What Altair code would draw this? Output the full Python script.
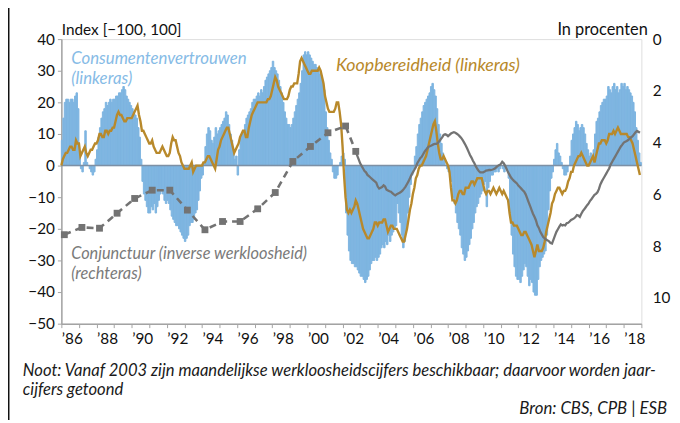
import altair as alt
import pandas as pd

# ---------------- data ----------------
start_year = 1986
# Consumentenvertrouwen, monthly 1986-2018 (left axis)
blue = [
    8, 15, 20, 21, 21, 20, 21, 21, 20, 22, 23, 18,        # 1986
    4, -1, -2, 1, 11, 1, 0, -1, -2, -3, -2, 2,            # 1987
    5, 9, 12, 15, 17, 18, 20, 19, 20, 21, 20, 21,         # 1988
    21, 22, 22, 23, 23, 24, 25, 24, 22, 21, 20, 19,       # 1989
    18, 17, 16, 15, 12, 9, 2, -5, -9, -11, -13, -15,      # 1990
    -15, -13, -14, -12, -15, -13, -11, -9, -8, -9, -11, -12,  # 1991
    -11, -12, -14, -16, -17, -18, -19, -19, -20, -21, -22, -23,  # 1992
    -24, -23, -22, -19, -18, -18, -17, -15, -14, -11, -8, -4,  # 1993
    -3, 1, 6, 10, 12, 11, 8, 7, 9, 12, 10, 11,            # 1994
    12, 13, 14, 15, 17, 16, 13, 10, 8, 5, 2, 3,           # 1995
    -3, 5, 9, 10, 11, 13, 15, 16, 17, 18, 20, 21,         # 1996
    21, 22, 23, 22, 24, 23, 25, 27, 28, 29, 30, 31,       # 1997
    33, 31, 30, 29, 27, 25, 23, 20, 17, 15, 13, 13,       # 1998
    12, 13, 15, 17, 19, 21, 23, 26, 30, 35, 36, 35,       # 1999
    36, 35, 34, 33, 32, 32, 31, 30, 29, 28, 27, 24,       # 2000
    17, 12, 8, 4, 2, -2, -4, -4, -3, 0, 1, 3,             # 2001
    4, 2, -15, -22, -27, -30, -31, -31, -32, -32, -33, -34,  # 2002
    -35, -35, -36, -37, -36, -35, -33, -31, -30, -30, -29, -30,  # 2003
    -29, -28, -26, -25, -26, -24, -25, -22, -24, -22, -21, -20,  # 2004
    -19, -12, -15, -18, -22, -26, -24, -20, -15, -10, -6, -3,  # 2005
    -1, 3, 6, 10, 13, 15, 17, 19, 20, 21, 22, 23,         # 2006
    25, 26, 24, 22, 18, 13, 10, 7, 4, 2, 0, -1,           # 2007
    -2, -3, -5, -10, -12, -15, -18, -20, -22, -26, -28, -30,  # 2008
    -29, -27, -25, -23, -20, -18, -15, -13, -12, -10, -9, -8,  # 2009
    -6, -5, -13, -7, -5, -3, -3, -2, -2, -1, -2, -1,      # 2010
    0, -1, -2, 0, -1, -4, -15, -22, -28, -32, -35, -36,   # 2011
    -36, -37, -35, -33, -31, -32, -35, -38, -36, -37, -40, -41,  # 2012
    -41, -36, -32, -30, -29, -28, -27, -22, -14, -8, -4, -2,  # 2013
    2, 5, 7, 4, 3, 1, -1, -3, -3, -2, 0, 3,               # 2014
    8, 10, 12, 14, 13, 11, 12, 13, 12, 10, 7, 5,          # 2015
    3, 4, 2, 5, 10, 14, 15, 17, 19, 20, 21, 21,           # 2016
    22, 25, 24, 23, 25, 26, 24, 25, 23, 24, 26, 25,       # 2017
    26, 24, 25, 24, 23, 22, 20, 17, 12, 8, 4, 1,          # 2018
]

# Koopbereidheid, monthly 1986-2018 (left axis)
gold = [
    0, 2, 3, 4, 4, 5, 6, 6, 5, 5, 8, 7,
    7, 3, 4, 5, 6, 4, 3, 4, 5, 5, 6, 7,
    7, 8, 10, 10, 9, 9, 11, 11, 10, 11, 11, 12,
    12, 14, 16, 17, 16, 16, 15, 14, 14, 15, 15, 15,
    15, 16, 17, 18, 19, 16, 14, 11, 11, 10, 9, 8,
    7, 7, 8, 6, 5, 4, 4, 4, 5, 6, 5, 4,
    3, 3, 4, 7, 9, 8, 8, 6, 4, 3, 1, 0,
    -1, -1, -1, -1, 0, 1, -2, -1, 0, 0, 0, 0,
    0, 1, 1, 2, 3, 3, 2, 1, 0, -1, 2, 5,
    6, 8, 9, 10, 11, 12, 12, 10, 8, 6, 4, 5,
    6, 7, 9, 10, 11, 11, 9, 9, 12, 14, 16, 17,
    18, 19, 20, 20, 20, 20, 20, 20, 20, 21, 21, 22,
    24, 26, 28, 27, 25, 24, 23, 22, 21, 21, 21, 22,
    24, 25, 25, 26, 26, 26, 29, 33, 34, 33, 32, 31,
    30, 29, 29, 30, 30, 30, 30, 30, 31, 30, 28, 26,
    22, 20, 18, 17, 17, 17, 17, 18, 20, 20, 17, 13,
    6, -3, -10, -14, -15, -14, -15, -14, -13, -11, -12, -14,
    -16, -18, -20, -21, -22, -23, -23, -22, -21, -20, -18, -18,
    -19, -18, -18, -18, -17, -17, -19, -21, -20, -19, -19, -20,
    -20, -20, -21, -22, -23, -24, -24, -22, -20, -17, -14, -12,
    -9, -7, -4, -3, -1, 0, 0, 1, 2, 3, 5, 7,
    9, 11, 13, 14, 11, 7, 4, 2, 2, 3, 2, 1,
    0, -2, -7, -11, -11, -12, -11, -9, -8, -8, -9, -9,
    -7, -7, -7, -6, -5, -5, -6, -5, -4, -4, -4, -4,
    -6, -8, -9, -8, -8, -9, -8, -7, -8, -9, -8, -7,
    -8, -9, -8, -9, -10, -11, -15, -18, -18, -19, -19, -19,
    -20, -21, -22, -22, -21, -21, -22, -23, -24, -25, -27, -29,
    -27, -25, -27, -27, -27, -26, -24, -21, -19, -17, -15, -12,
    -11, -9, -8, -7, -7, -8, -9, -8, -8, -7, -5, -4,
    -2, -2, 0, 1, 2, 3, 3, 4, 3, 2, 1, 0,
    0, 1, 2, 3, 1, 3, 5, 7, 7, 8, 8, 8,
    7, 8, 10, 10, 10, 11, 10, 11, 12, 11, 10, 10,
    10, 10, 10, 9, 9, 8, 7, 5, 3, 1, -1, -3,
]

# Conjunctuur (werkloosheid, %), annual 1986-2002 (right axis, inverted)
annual_years = list(range(1986, 2003))
annual_unemp = [7.56, 7.28, 7.31, 6.73, 6.16, 5.84, 5.84, 6.61, 7.37,
                7.05, 7.05, 6.56, 5.93, 4.73, 4.15, 3.62, 3.36]

# Conjunctuur, monthly from Oct 2002 to Dec 2018
monthly_start = 2002 + 9 / 12
monthly_unemp = [
    4.34, 4.5, 4.65,                                                     # 2002 Q4
    4.8, 4.9, 5.0, 5.1, 5.15, 5.25, 5.3, 5.35, 5.4, 5.45, 5.5, 5.55,     # 2003
    5.7, 5.78, 5.75, 5.72, 5.65, 5.7, 5.82, 5.85, 5.88, 5.9, 5.95, 6.0,  # 2004
    6.04, 6.0, 5.97, 5.94, 5.9, 5.85, 5.78, 5.7, 5.6, 5.5, 5.38, 5.25,   # 2005
    5.15, 5.05, 4.95, 4.8, 4.7, 4.6, 4.55, 4.45, 4.35, 4.28, 4.2, 4.15,  # 2006
    4.13, 4.1, 4.07, 4.05, 4.05, 4.02, 3.95, 3.87, 3.8, 3.7, 3.68, 3.7,  # 2007
    3.75, 3.7, 3.65, 3.62, 3.6, 3.62, 3.66, 3.7, 3.76, 3.82, 3.9, 4.0,   # 2008
    4.1, 4.22, 4.35, 4.48, 4.58, 4.7, 4.8, 4.92, 5.02, 5.1, 5.15, 5.15,  # 2009
    5.15, 5.12, 5.08, 5.07, 5.06, 5.06, 5.05, 5.03, 5.0, 4.95, 4.9, 4.87,  # 2010
    4.83, 4.74, 4.8, 4.9, 5.02, 5.15, 5.25, 5.35, 5.42, 5.48, 5.53, 5.58,  # 2011
    5.66, 5.72, 5.78, 5.84, 5.9, 6.0, 6.15, 6.3, 6.45, 6.6, 6.75, 6.87,  # 2012
    7.0, 7.2, 7.3, 7.45, 7.55, 7.65, 7.7, 7.75, 7.78, 7.82, 7.88, 7.9,   # 2013
    7.75, 7.6, 7.45, 7.35, 7.25, 7.16, 7.2, 7.18, 7.2, 7.12, 7.1, 7.05,  # 2014
    6.99, 6.96, 6.93, 6.88, 6.8, 6.82, 6.87, 6.75, 6.65, 6.58, 6.5, 6.42,  # 2015
    6.35, 6.25, 6.18, 6.1, 6.02, 5.98, 5.92, 5.8, 5.62, 5.5, 5.4, 5.3,   # 2016
    5.2, 5.1, 5.0, 4.85, 4.75, 4.65, 4.55, 4.45, 4.35, 4.25, 4.15, 4.08,  # 2017
    4.0, 3.97, 3.94, 3.9, 3.85, 3.8, 3.75, 3.68, 3.6, 3.55, 3.58, 3.62,  # 2018
]

left_ticks = list(range(-50, 41, 10))
right_ticks = [0, 2, 4, 6, 8, 10]
year_ticks = list(range(1986, 2020))

# ---------------- tables ----------------
month_df = pd.DataFrame({
    "t": [start_year + i / 12 for i in range(len(blue))],
    "t2": [start_year + (i + 1) / 12 for i in range(len(blue))],
    "v": blue,
    "g": gold,
    "z": [0] * len(blue),
})
annual_df = pd.DataFrame({
    "t": [y + 0.17 for y in annual_years] + [monthly_start],
    "r": annual_unemp + [monthly_unemp[0]],
})
monthly_df = pd.DataFrame({
    "t": [monthly_start + i / 12 for i in range(len(monthly_unemp))],
    "r": monthly_unemp,
})

# ---------------- style ----------------
BLUE = "#7eb5e1"
BLUE_TXT = "#86bbe6"
GOLD = "#b8892b"
GREY = "#737373"
FRAME = "#a3a3a3"
FONT = "Lato"

X = alt.X("t:Q",
          scale=alt.Scale(domain=[1986, 2019], nice=False, zero=False),
          axis=alt.Axis(values=year_ticks, title=None, grid=False,
                        labelExpr="datum.value % 2 == 0 && datum.value < 2019 ? '’' + slice(toString(datum.value), 2) : ''",
                        labelAlign="left", labelBaseline="top", labelPadding=4,
                        labelOverlap=False, labelFlush=False,
                        tickSize=4, tickColor=FRAME, domainColor=FRAME,
                        domainWidth=1.5, labelFontSize=15.5, labelColor="#111"))

left_axis = alt.Axis(values=left_ticks, title="Index [−100, 100]", titleAngle=0,
                     titleAlign="left", titleBaseline="alphabetic", titleX=0, titleY=-5,
                     titleFontSize=15.5, titleFontWeight="normal", titleColor="#111",
                     tickSize=4, tickColor=FRAME, domainColor=FRAME, domainWidth=1.5,
                     grid=False, labelPadding=3, labelFontSize=15.5, labelColor="#111")
left_scale = alt.Scale(domain=[-50, 40], nice=False, zero=False)

right_axis = alt.Axis(orient="right", values=right_ticks, title="In procenten", titleAngle=0,
                      titleAlign="right", titleBaseline="alphabetic", titleX=6, titleY=-5,
                      titleFontSize=16.5, titleFontWeight="normal", titleColor="#111",
                      ticks=False, domain=False, grid=False, labelPadding=11,
                      labelFontSize=15.5, labelColor="#111")
right_scale = alt.Scale(domain=[0, 11], reverse=True, nice=False, zero=False)

bars = alt.Chart(month_df).mark_rect(color=BLUE, stroke=BLUE, strokeWidth=1.0).encode(
    x=X, x2="t2:Q",
    y=alt.Y("v:Q", scale=left_scale, axis=left_axis), y2="z:Q")
zero = alt.Chart(month_df.head(1)).mark_rule(color="#7d90a5", strokeWidth=1.6).encode(
    y=alt.Y("z:Q", scale=left_scale, axis=left_axis))
gold_line = alt.Chart(month_df).mark_line(color=GOLD, strokeWidth=2.4).encode(
    x=X, y=alt.Y("g:Q", scale=left_scale, axis=left_axis))

left = alt.layer(bars, zero, gold_line)

dashed = alt.Chart(annual_df).mark_line(color=GREY, strokeWidth=2.6, strokeDash=[7, 5]).encode(
    x=X, y=alt.Y("r:Q", scale=right_scale, axis=right_axis))
squares = alt.Chart(annual_df).mark_point(shape="square", filled=True, size=48,
                                          color=GREY, opacity=1).encode(
    x=X, y=alt.Y("r:Q", scale=right_scale, axis=right_axis))
solid = alt.Chart(monthly_df).mark_line(color=GREY, strokeWidth=2.3).encode(
    x=X, y=alt.Y("r:Q", scale=right_scale, axis=right_axis))

right = alt.layer(dashed, squares, solid)


def label(text, x, y, color, size=17, italic=True, align="left"):
    return alt.Chart(pd.DataFrame({"s": [text]})).mark_text(
        align=align, baseline="alphabetic", font=FONT, fontSize=size,
        fontStyle="italic" if italic else "normal", color=color).encode(
        x=alt.value(x), y=alt.value(y), text="s:N")


texts = alt.layer(
    label("Consumentenvertrouwen", 10, 25, BLUE_TXT, size=17),
    label("(linkeras)", 10, 45, BLUE_TXT, size=17),
    label("Koopbereidheid (linkeras)", 278, 32, GOLD, size=18),
    label("Conjunctuur (inverse werkloosheid)", 10, 223, "#7a7a7a", size=16.5),
    label("(rechteras)", 10, 243, "#7a7a7a", size=16.5),
    label("Noot: Vanaf 2003 zijn maandelijkse werkloosheidscijfers beschikbaar; daarvoor worden jaar-",
          -39, 341, "#1a1a1a", size=16.8),
    label("cijfers getoond", -39, 360, "#1a1a1a", size=16.8),
    label("Bron: CBS, CPB | ESB", 613, 379, "#1a1a1a", size=17, align="right"),
)

border = alt.Chart(pd.DataFrame({"a": [0]})).mark_rule(color="#111", strokeWidth=1.6).encode(
    x=alt.value(-53.3), y=alt.value(-40), y2=alt.value(400))

chart = alt.layer(left, right, texts, border).resolve_scale(y="independent").properties(
    width=587, height=288,
    padding={"left": 54, "top": 29, "right": 31, "bottom": 95},
    autosize=alt.AutoSizeParams(type="none"),
).configure_view(stroke=FRAME, strokeWidth=1.5).configure(font=FONT)

chart.save("out.html", embed_options={"renderer": "svg", "actions": False})
